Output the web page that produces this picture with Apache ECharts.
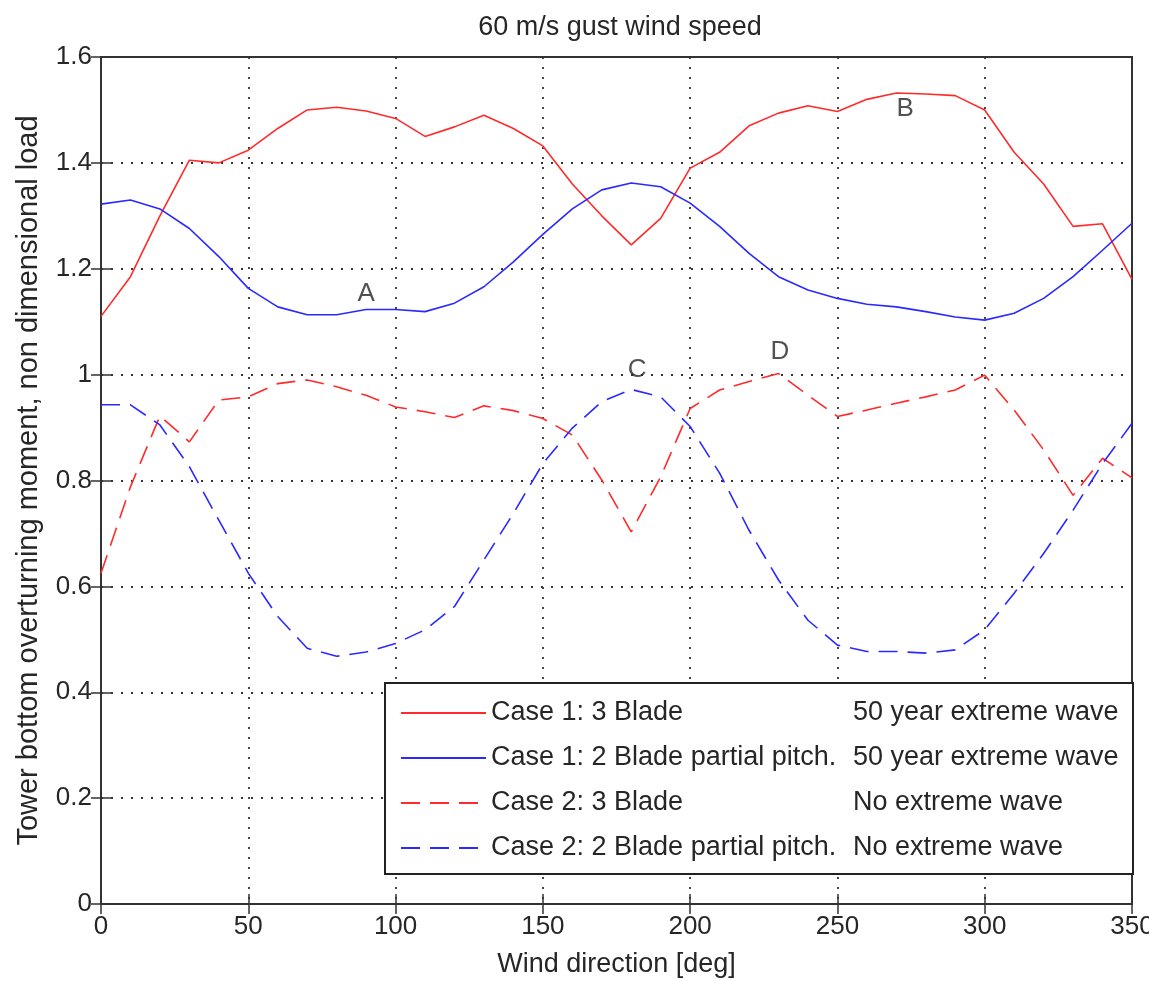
<!DOCTYPE html>
<html>
<head>
<meta charset="utf-8">
<script src="https://cdn.jsdelivr.net/npm/echarts@6/dist/echarts.min.js"></script>
<style>
  html, body { margin: 0; padding: 0; background: #fff; }
  #chart { width: 1149px; height: 981px; }
</style>
</head>
<body>
<div id="chart"></div>
<script>
// wind direction, deg
const angles = [0, 10, 20, 30, 40, 50, 60, 70, 80, 90, 100, 110, 120, 130, 140, 150, 160, 170,
  180, 190, 200, 210, 220, 230, 240, 250, 260, 270, 280, 290, 300, 310, 320, 330, 340, 350];

// case 1: 3 blade, 50 year extreme wave
const case1Blade3 = [1.11, 1.185, 1.30, 1.405, 1.40, 1.424, 1.465, 1.50, 1.505, 1.498, 1.484, 1.45,
  1.468, 1.49, 1.465, 1.432, 1.36, 1.30, 1.245, 1.295, 1.39, 1.42, 1.47, 1.494, 1.508, 1.497, 1.52,
  1.532, 1.53, 1.527, 1.50, 1.42, 1.36, 1.28, 1.285, 1.18];

// case 1: 2 blade partial pitch, 50 year extreme wave
const case1Blade2 = [1.322, 1.33, 1.313, 1.276, 1.223, 1.163, 1.128, 1.113, 1.113, 1.123, 1.123,
  1.119, 1.135, 1.166, 1.213, 1.265, 1.313, 1.349, 1.362, 1.355, 1.324, 1.28, 1.229, 1.185, 1.16,
  1.144, 1.133, 1.128, 1.119, 1.109, 1.103, 1.116, 1.144, 1.185, 1.235, 1.286];

// case 2: 3 blade, no extreme wave
const case2Blade3 = [0.625, 0.788, 0.922, 0.873, 0.952, 0.958, 0.983, 0.99, 0.977, 0.961, 0.939,
  0.93, 0.919, 0.941, 0.932, 0.917, 0.886, 0.801, 0.703, 0.807, 0.936, 0.971, 0.987, 1.002, 0.961,
  0.921, 0.933, 0.946, 0.958, 0.971, 0.999, 0.933, 0.858, 0.772, 0.842, 0.805];

// case 2: 2 blade partial pitch, no extreme wave
const case2Blade2 = [0.943, 0.943, 0.905, 0.826, 0.725, 0.625, 0.543, 0.483, 0.468, 0.476, 0.492,
  0.518, 0.562, 0.65, 0.738, 0.832, 0.899, 0.949, 0.972, 0.958, 0.902, 0.814, 0.706, 0.612, 0.536,
  0.489, 0.477, 0.477, 0.474, 0.48, 0.518, 0.587, 0.662, 0.744, 0.832, 0.908];

// point labels A..D
const noteText = ['A', 'B', 'C', 'D'];
const noteX = [90, 273, 182, 230.5];
const noteY = [1.153, 1.503, 1.009, 1.043];

const seriesNames = [
  'Case 1: 3 Blade',
  'Case 1: 2 Blade partial pitch.',
  'Case 2: 3 Blade',
  'Case 2: 2 Blade partial pitch.'
];
const waveNames = ['50 year extreme wave', '50 year extreme wave', 'No extreme wave', 'No extreme wave'];

const font = 'Liberation Sans, Arial, sans-serif';
const textColor = '#262626';
const RED = '#ff2a2a';
const BLUE = '#2a2aff';

function pairs(ys) {
  return angles.map((a, i) => [a, ys[i]]);
}

function lineSeries(name, ys, color, dashed) {
  return {
    type: 'line',
    name: name,
    data: pairs(ys),
    symbol: 'none',
    smooth: false,
    silent: true,
    lineStyle: {
      color: color,
      width: 1.6,
      type: dashed ? [19, 10] : 'solid'
    },
    itemStyle: { color: color },
    z: 3
  };
}

const gridLine = {
  show: true,
  lineStyle: { color: '#333', width: 1.8, type: [2, 8] }
};

const option = {
  animation: false,
  backgroundColor: '#fff',
  textStyle: { fontFamily: font, color: textColor },
  title: {
    text: '60 m/s gust wind speed',
    left: 615,
    top: 9,
    textAlign: 'center',
    textStyle: { fontFamily: font, fontSize: 27, fontWeight: 'normal', color: textColor }
  },
  grid: {
    left: 101,
    right: 17,
    top: 57,
    bottom: 77,
    outerBoundsMode: 'none',
    containLabel: false,
    show: true,
    borderColor: '#333',
    borderWidth: 2,
    backgroundColor: '#fff'
  },
  legend: {
    data: seriesNames,
    orient: 'vertical',
    left: 385,
    top: 683,
    itemWidth: 85,
    itemHeight: 14,
    itemGap: 15,
    padding: [15, 10, 11, 15],
    backgroundColor: '#fff',
    borderColor: '#222',
    borderWidth: 2,
    selectedMode: false,
    itemStyle: { opacity: 0 },
    formatter: function (name) {
      const i = seriesNames.indexOf(name);
      return '{a|' + name + '}{b|' + waveNames[i] + '}';
    },
    textStyle: {
      fontFamily: font,
      fontSize: 27,
      color: textColor,
      lineHeight: 30,
      rich: {
        a: { width: 362, fontSize: 27, fontFamily: font, color: textColor },
        b: { width: 270, fontSize: 27, fontFamily: font, color: textColor }
      }
    }
  },
  xAxis: [{
    type: 'value',
    min: 0,
    max: 350,
    interval: 50,
    name: 'Wind direction [deg]',
    nameLocation: 'middle',
    nameGap: 47,
    nameTextStyle: { fontFamily: font, fontSize: 27, color: textColor },
    axisLine: { show: true, lineStyle: { color: '#333', width: 2 } },
    axisTick: { show: true, inside: true, length: 10, lineStyle: { color: '#333', width: 1.5 } },
    axisLabel: { fontFamily: font, fontSize: 26, color: textColor, margin: 10 },
    splitLine: gridLine
  }, {
    type: 'value',
    position: 'top',
    min: 0,
    max: 350,
    interval: 50,
    axisLine: { show: true, lineStyle: { color: '#333', width: 2 } },
    axisTick: { show: true, inside: true, length: 10, lineStyle: { color: '#333', width: 1.5 } },
    axisLabel: { show: false },
    splitLine: { show: false }
  }],
  yAxis: [{
    type: 'value',
    min: 0,
    max: 1.6,
    interval: 0.2,
    name: 'Tower bottom overturning moment, non dimensional load',
    nameLocation: 'middle',
    nameGap: 58,
    nameTextStyle: { fontFamily: font, fontSize: 29, color: textColor },
    axisLine: { show: true, lineStyle: { color: '#333', width: 2 } },
    axisTick: { show: true, inside: true, length: 10, lineStyle: { color: '#333', width: 1.5 } },
    axisLabel: { fontFamily: font, fontSize: 26, color: textColor, margin: 9 },
    splitLine: gridLine
  }, {
    type: 'value',
    position: 'right',
    min: 0,
    max: 1.6,
    interval: 0.2,
    axisLine: { show: true, lineStyle: { color: '#333', width: 2 } },
    axisTick: { show: true, inside: true, length: 10, lineStyle: { color: '#333', width: 1.5 } },
    axisLabel: { show: false },
    splitLine: { show: false }
  }],
  series: [
    lineSeries(seriesNames[0], case1Blade3, RED, false),
    lineSeries(seriesNames[1], case1Blade2, BLUE, false),
    lineSeries(seriesNames[2], case2Blade3, RED, true),
    lineSeries(seriesNames[3], case2Blade2, BLUE, true),
    {
      type: 'scatter',
      name: 'notes',
      silent: true,
      symbolSize: 0,
      data: noteText.map((t, i) => [noteX[i], noteY[i], t]),
      label: {
        show: true,
        position: 'inside',
        formatter: p => p.value[2],
        fontFamily: font,
        fontSize: 26,
        color: textColor
      },
      z: 4
    }
  ]
};

const chart = echarts.init(document.getElementById('chart'));
chart.setOption(option);
</script>
</body>
</html>
